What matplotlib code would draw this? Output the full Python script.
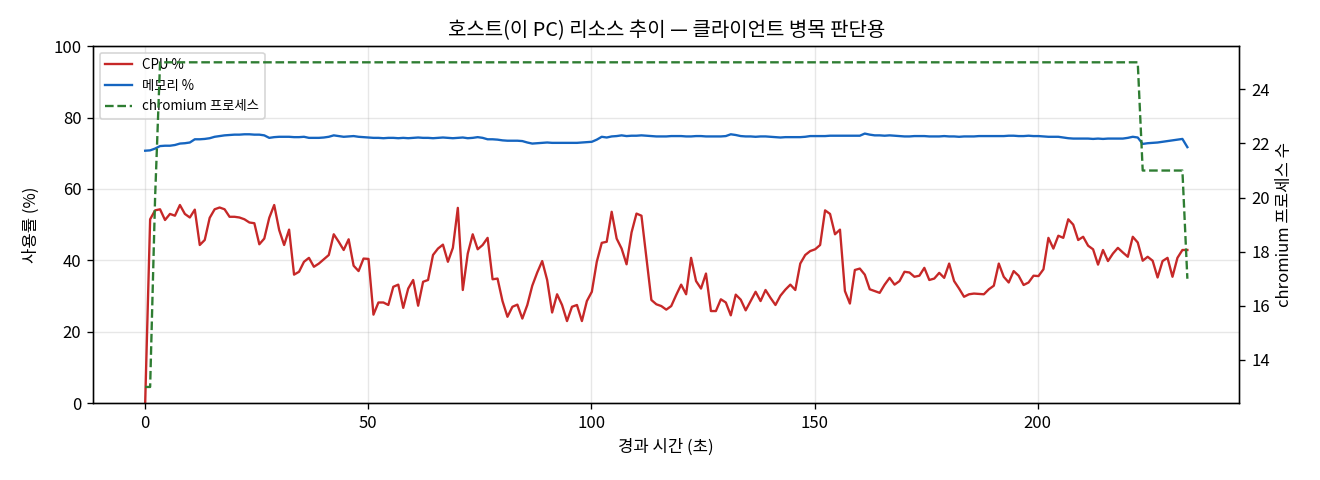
import numpy as np
import matplotlib.pyplot as plt

plt.rcParams['font.family'] = ['Noto Sans CJK KR', 'DejaVu Sans']
plt.rcParams['axes.unicode_minus'] = False

# sampling interval of the monitor (seconds)
SAMPLE_SEC = 1.112

cpu_pct = [
    0.0, 51.5, 54.0, 54.3, 51.3, 53.0, 52.5, 55.5, 53.0, 52.0,
    54.2, 44.3, 45.7, 51.9, 54.3, 54.8, 54.3, 52.2, 52.2, 52.0,
    51.5, 50.6, 50.4, 44.5, 46.1, 51.9, 55.5, 48.5, 44.3, 48.6,
    36.0, 36.8, 39.6, 40.7, 38.2, 39.1, 40.3, 41.5, 47.3, 45.2,
    42.9, 45.9, 38.5, 37.0, 40.5, 40.4, 24.8, 28.2, 28.2, 27.5,
    32.6, 33.2, 26.7, 32.1, 34.5, 27.3, 34.0, 34.5, 41.5, 43.3,
    44.4, 39.6, 43.5, 54.7, 31.7, 41.9, 47.3, 43.1, 44.3, 46.3,
    34.7, 34.9, 28.6, 24.2, 27.0, 27.6, 23.7, 27.5, 32.9, 36.6,
    39.8, 34.5, 25.4, 30.5, 27.5, 23.0, 27.0, 27.5, 23.0, 28.6,
    31.2, 39.6, 44.9, 45.2, 53.6, 46.1, 43.3, 38.9, 47.8, 53.1,
    52.5, 40.7, 28.9, 27.7, 27.2, 26.2, 27.2, 30.3, 33.2, 30.5,
    40.7, 34.2, 32.1, 36.3, 25.8, 25.8, 29.1, 28.2, 24.6, 30.4,
    29.0, 26.0, 28.6, 31.2, 28.6, 31.7, 29.5, 27.5, 30.1, 31.8,
    33.2, 31.7, 39.1, 41.5, 42.6, 43.1, 44.3, 54.0, 53.0, 47.3,
    48.6, 31.4, 27.9, 37.3, 37.7, 36.0, 31.9, 31.4, 30.9, 33.2,
    35.1, 33.2, 34.2, 36.8, 36.6, 35.4, 35.7, 37.9, 34.5, 34.9,
    36.5, 35.1, 39.1, 34.2, 32.1, 29.8, 30.5, 30.7, 30.6, 30.5,
    31.9, 32.9, 39.1, 35.4, 33.8, 37.0, 35.7, 33.1, 33.8, 35.7,
    35.6, 37.5, 46.3, 43.3, 46.9, 46.3, 51.5, 50.0, 45.7, 46.6,
    44.1, 43.1, 38.8, 42.9, 39.8, 41.9, 43.5, 42.2, 41.0, 46.6,
    45.0, 39.9, 41.0, 39.9, 35.2, 39.8, 40.7, 35.4, 40.7, 42.9,
    42.9,
]

mem_pct = [
    70.7, 70.8, 71.3, 72.0, 72.1, 72.1, 72.3, 72.7, 72.8, 73.0,
    73.9, 73.9, 74.0, 74.2, 74.6, 74.8, 75.0, 75.1, 75.2, 75.2,
    75.3, 75.3, 75.2, 75.2, 75.0, 74.3, 74.5, 74.6, 74.6, 74.6,
    74.5, 74.5, 74.6, 74.3, 74.3, 74.3, 74.4, 74.6, 75.0, 74.8,
    74.6, 74.7, 74.8, 74.6, 74.5, 74.4, 74.3, 74.3, 74.2, 74.3,
    74.3, 74.2, 74.3, 74.2, 74.3, 74.4, 74.3, 74.3, 74.2, 74.3,
    74.4, 74.3, 74.2, 74.3, 74.4, 74.2, 74.3, 74.5, 74.3, 73.9,
    73.9, 73.8, 73.6, 73.5, 73.5, 73.5, 73.4, 73.0, 72.7, 72.8,
    72.9, 73.0, 72.9, 72.9, 72.9, 72.9, 72.9, 72.9, 73.0, 73.1,
    73.2, 73.8, 74.6, 74.4, 74.7, 74.8, 75.0, 74.8, 74.9, 74.9,
    75.0, 74.9, 74.8, 74.7, 74.7, 74.7, 74.8, 74.8, 74.8, 74.7,
    74.7, 74.8, 74.8, 74.7, 74.7, 74.7, 74.7, 74.8, 75.3, 75.1,
    74.8, 74.7, 74.7, 74.6, 74.7, 74.7, 74.6, 74.5, 74.4, 74.5,
    74.5, 74.5, 74.5, 74.6, 74.8, 74.8, 74.8, 74.8, 74.9, 74.9,
    74.9, 74.9, 74.9, 74.9, 74.9, 75.5, 75.2, 75.0, 75.0, 74.9,
    75.0, 74.9, 74.8, 74.7, 74.7, 74.8, 74.8, 74.8, 74.7, 74.7,
    74.7, 74.8, 74.7, 74.7, 74.6, 74.7, 74.7, 74.7, 74.8, 74.8,
    74.8, 74.8, 74.8, 74.8, 74.9, 74.9, 74.8, 74.8, 74.9, 74.8,
    74.8, 74.7, 74.6, 74.6, 74.6, 74.4, 74.2, 74.1, 74.1, 74.1,
    74.1, 74.0, 74.1, 74.0, 74.1, 74.1, 74.1, 74.1, 74.3, 74.6,
    74.4, 72.6, 72.8, 72.9, 73.0, 73.2, 73.4, 73.6, 73.8, 74.0,
    71.7,
]

# chromium process count: 13 at start, 25 for most of the run, then 21 and 17
chromium_count = [13, 13, 20] + [25] * 198 + [21] * 9 + [17]

elapsed = np.arange(len(cpu_pct)) * SAMPLE_SEC

fig, ax1 = plt.subplots(figsize=(11, 4), dpi=120)
ax1.plot(elapsed, cpu_pct, color='#c62828', lw=1.4, label='CPU %')
ax1.plot(elapsed, mem_pct, color='#1565c0', lw=1.4, label='메모리 %')
ax1.set_ylim(0, 100)
ax1.set_xlabel('경과 시간 (초)')
ax1.set_ylabel('사용률 (%)', labelpad=8)
ax1.grid(alpha=0.3)

ax2 = ax1.twinx()
ax2.plot(elapsed, chromium_count, color='#2e7d32', lw=1.4, ls='--', label='chromium 프로세스')
ax2.set_ylabel('chromium 프로세스 수')

h1, l1 = ax1.get_legend_handles_labels()
h2, l2 = ax2.get_legend_handles_labels()
ax1.legend(h1 + h2, l1 + l2, loc='upper left', fontsize=8)

ax1.set_title('호스트(이 PC) 리소스 추이 — 클라이언트 병목 판단용', fontsize=12)
fig.subplots_adjust(left=0.0705, right=0.939, top=0.904, bottom=0.16)
fig.savefig('out.png')
